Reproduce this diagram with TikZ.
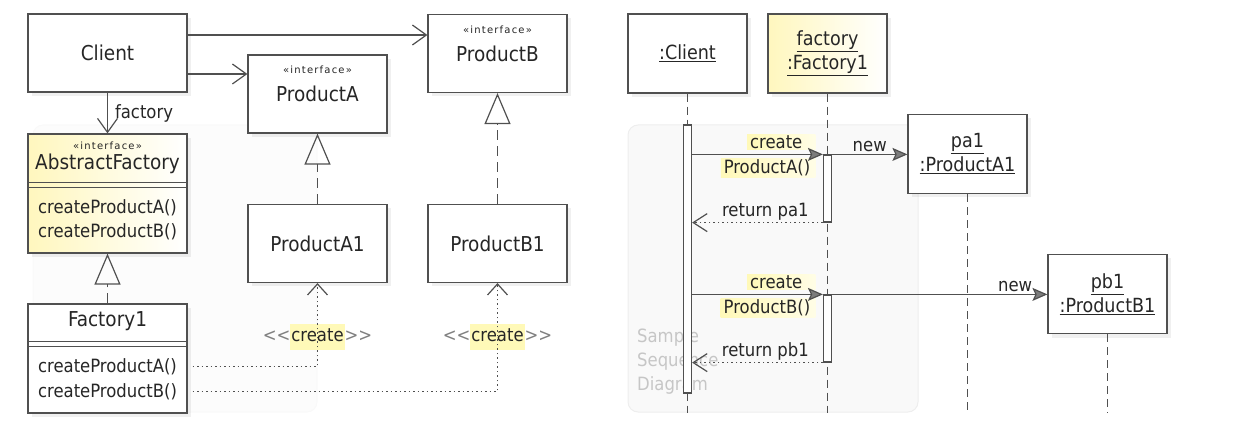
\documentclass[tikz,border=0pt]{standalone}
\usepackage{fontspec}
\setmainfont{DejaVu Sans Condensed}
\newfontfamily\stereofont[LetterSpace=12]{DejaVu Sans}
\usepackage{xcolor}
\usepackage{tikz}
\usetikzlibrary{arrows.meta, shadows}
\definecolor{linegray}{HTML}{505050}
\definecolor{textgray}{HTML}{262626}
\definecolor{noteyellow}{HTML}{FFF7BE}
\definecolor{hlyellow}{HTML}{FFF9B8}
\definecolor{samplegray}{HTML}{C6C6C6}
\definecolor{framefill}{HTML}{F9F9F9}
\definecolor{frameline}{HTML}{EEEEEE}
\newcommand{\namesize}{\fontsize{20.5pt}{24pt}\selectfont}
\newcommand{\objsize}{\fontsize{19.5pt}{24pt}\selectfont}
\newcommand{\opsize}{\fontsize{18.3pt}{24pt}\selectfont}
\newcommand{\stereo}{\stereofont\fontsize{10pt}{11pt}\selectfont}
\newcommand{\hl}[1]{{\setlength{\fboxsep}{1pt}\colorbox{hlyellow}{\strut #1}}}
\newcommand{\crlabel}{\textcolor{gray}{<\kern0pt<}\hl{create}\textcolor{gray}{>\kern0pt>}}
\tikzstyle{cls} = [rectangle, minimum width=139pt, minimum height=78pt, text centered, draw=linegray, line width=1.2pt, fill=white, text=textgray, font=\namesize, drop shadow={opacity=0.12, shadow xshift=4pt, shadow yshift=-4pt}]
\tikzstyle{wide} = [cls, minimum width=159pt]
\tikzstyle{obj} = [cls, minimum width=119pt, minimum height=79pt, align=center, font=\objsize]
\tikzstyle{member} = [text=textgray, font=\opsize, align=center, inner sep=0pt]
\tikzstyle{stereolbl} = [text=textgray, font=\stereo, inner sep=0pt]
\tikzstyle{actbar} = [rectangle, draw=linegray, line width=1.2pt, fill=white, minimum width=8pt, inner sep=0pt]
\tikzstyle{assoc} = [line width=1.2pt, draw=linegray, -{Straight Barb[length=14pt, width=20pt, line width=1.2pt]}]
\tikzstyle{realize} = [line width=1.2pt, draw=linegray, dash pattern=on 10pt off 6pt, -{Triangle[open, length=31pt, width=26pt, line width=1.2pt]}]
\tikzstyle{depend} = [line width=1.3pt, draw=linegray, dash pattern=on 1.5pt off 3pt, -{Straight Barb[length=11pt, width=20pt, line width=1.2pt]}]
\tikzstyle{msg} = [line width=1.2pt, draw=linegray, -{Stealth[length=15pt, width=13pt, inset=3pt, fill=linegray!75]}]
\tikzstyle{ret} = [line width=1.3pt, draw=linegray, dash pattern=on 1.5pt off 3pt, -{Straight Barb[length=14pt, width=18pt, line width=1.2pt]}]
\tikzstyle{lifeline} = [line width=1.2pt, draw=linegray, dash pattern=on 8pt off 5pt]
\tikzstyle{msglbl} = [text=textgray, font=\opsize, inner xsep=3pt, inner ysep=1pt, left color=hlyellow, right color=hlyellow!35!white, behind path]
\tikzstyle{plainlbl} = [text=textgray, font=\opsize, inner sep=2pt]
\tikzstyle{frame} = [rectangle, rounded corners=10pt, draw=frameline, fill=framefill, line width=1pt]

\begin{document}
\begin{tikzpicture}[node distance=140pt]
        \useasboundingbox (0,0) rectangle (1258pt,-438pt);
        % faint frames
        \node (clsframe) [frame, draw=framefill, fill=framefill!50!white, minimum width=284pt, minimum height=287pt] at (175pt,-268.5pt) {};
        \node (seqframe) [frame, minimum width=290pt, minimum height=287pt] at (773pt,-268.5pt) {};
        \node (seqtitle) [text=samplegray, font=\opsize, align=left, anchor=west, inner sep=0pt] at (637pt,-361pt) {Sample\\Sequence\\Diagram};

        % class diagram
        \node (client) [wide] at (107.5pt,-53pt) {Client};
        \node (prodA) [cls, right of=client, xshift=70pt, yshift=-41pt] {ProductA};
        \node (prodB) [cls, right of=prodA, xshift=40pt, yshift=40.5pt] {ProductB};
        \node (absfac) [wide, below of=client, yshift=-0.5pt, minimum height=119pt, left color=noteyellow, right color=white] {};
        \node (fac1) [wide, below of=absfac, yshift=-25pt, minimum height=109pt] {};
        \node (prodA1) [cls, below of=prodA, yshift=-9.5pt] {ProductA1};
        \node (prodB1) [cls, below of=prodB, yshift=-50pt] {ProductB1};

        \node (prodAst) [stereolbl] at ([yshift=24pt]prodA.center) {«interface»};
        \node (prodBst) [stereolbl] at ([yshift=24pt]prodB.center) {«interface»};
        \node (absfacst) [stereolbl] at ([yshift=-12pt]absfac.north) {«interface»};
        \node (absfacname) [member, font=\namesize] at ([yshift=-30pt]absfac.north) {AbstractFactory};
        \node (absfacops) [member] at ([yshift=-86.5pt]absfac.north) {createProductA()\\createProductB()};
        \node (fac1name) [member, font=\namesize] at ([yshift=-18pt]fac1.north) {Factory1};
        \node (fac1opA) [member] at ([yshift=-63pt]fac1.north) {createProductA()};
        \node (fac1opB) [member] at ([yshift=-88pt]fac1.north) {createProductB()};
        \draw [linegray, line width=1pt] ([yshift=-49pt]absfac.north west) -- ([yshift=-49pt]absfac.north east);
        \draw [linegray, line width=1pt] ([yshift=-54pt]absfac.north west) -- ([yshift=-54pt]absfac.north east);
        \draw [linegray, line width=1pt] ([yshift=-38pt]fac1.north west) -- ([yshift=-38pt]fac1.north east);
        \draw [linegray, line width=1pt] ([yshift=-43pt]fac1.north west) -- ([yshift=-43pt]fac1.north east);

        \node (createA) [plainlbl, below of=prodA1, yshift=46.5pt] {\crlabel};
        \node (createB) [plainlbl, below of=prodB1, yshift=46.5pt] {\crlabel};

        \draw [assoc] ([yshift=18pt]client.east) -- ([yshift=18pt]client.east -| prodB.west);
        \draw [assoc] ([yshift=-21pt]client.east) -- ([yshift=-21pt]client.east -| prodA.west);
        \draw [assoc] (client) -- node[plainlbl, right, xshift=6pt, inner sep=1pt] {factory} (absfac);
        \draw [realize] (prodA1) -- (prodA);
        \draw [realize] (prodB1) -- (prodB);
        \draw [realize] (fac1) -- (absfac);
        \draw [depend] ([xshift=5pt]fac1.east |- fac1opA) -| (prodA1.south);
        \draw [depend] ([xshift=5pt]fac1.east |- fac1opB) -| (prodB1.south);

        % sequence diagram
        \node (sclient) [obj, right of=prodB, xshift=50pt] {\underline{:Client}};
        \node (sfac) [obj, right of=sclient, left color=noteyellow, right color=white] {\underline{factory}\\\underline{:Factory1}};
        \node (pa1) [obj, right of=sfac, yshift=-100.5pt] {\underline{pa1}\\\underline{:ProductA1}};
        \node (pb1) [obj, right of=pa1, yshift=-140pt] {\underline{pb1}\\\underline{:ProductB1}};
        \coordinate (lifeend) at (0,-413pt);

        \draw [lifeline] (sclient.south) -- (sclient.south |- lifeend);
        \draw [lifeline] (sfac.south) -- (sfac.south |- lifeend);
        \draw [lifeline] (pa1.south) -- (pa1.south |- lifeend);
        \draw [lifeline] (pb1.south) -- (pb1.south |- lifeend);

        \node (actc) [actbar, below of=sclient, yshift=-65.5pt, minimum height=268pt] {};
        \node (actf1) [actbar, below of=sfac, yshift=5pt, minimum height=67pt] {};
        \node (actf2) [actbar, below of=actf1, minimum height=67pt] {};

        \draw [msg] (actc.east |- actf1.north) -- (actf1.north west)
            node[msglbl, pos=1, anchor=south east, xshift=-7pt, yshift=4pt] {create\hspace*{10pt}}
            node[msglbl, pos=1, anchor=north east, xshift=-7pt, yshift=-4pt] {ProductA()\hspace*{2pt}};
        \draw [ret] (actf1.south west) -- node[plainlbl, pos=0.44, above] {return pa1} (actc.east |- actf1.south);
        \draw [msg] (actf1.north east) -- node[plainlbl, above] {new} (pa1.west |- actf1.north);

        \draw [msg] (actc.east |- actf2.north) -- (actf2.north west)
            node[msglbl, pos=1, anchor=south east, xshift=-7pt, yshift=4pt] {create\hspace*{10pt}}
            node[msglbl, pos=1, anchor=north east, xshift=-7pt, yshift=-4pt] {ProductB()\hspace*{2pt}};
        \draw [ret] (actf2.south west) -- node[plainlbl, pos=0.44, above] {return pb1} (actc.east |- actf2.south);
        \draw [msg] (actf2.north east) -- node[plainlbl, pos=0.85, above] {new} (pb1.west |- actf2.north);
    \end{tikzpicture}
\end{document}
